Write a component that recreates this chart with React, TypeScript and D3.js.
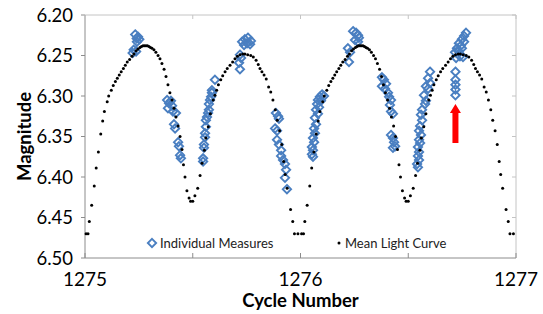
import { scaleLinear, symbol, symbolDiamond2, symbolDiamond } from "d3";

const W = 543;
const H = 314;
const FONT = "Lato, 'Open Sans', sans-serif";

// axis ticks
const yTicks = [6.2, 6.25, 6.3, 6.35, 6.4, 6.45, 6.5];
const xTickMarks = [1275, 1275.5, 1276, 1276.5, 1277];
const xLabels = [1275, 1276, 1277];

// mean light curve, phase-folded, plotted over two cycles
const cycles = [1275, 1276];
const meanPhase = [
    0.005, 0.014, 0.02, 0.031, 0.043, 0.052, 0.062, 0.073, 0.082, 0.09, 0.103,
    0.11, 0.122, 0.131, 0.141, 0.15, 0.159, 0.168, 0.178, 0.187, 0.196, 0.207,
    0.218, 0.227, 0.237, 0.246, 0.255, 0.262, 0.269, 0.276, 0.283, 0.29, 0.297,
    0.304, 0.311, 0.32, 0.329, 0.339, 0.348, 0.357, 0.367, 0.376, 0.385, 0.394,
    0.404, 0.413, 0.422, 0.432, 0.441, 0.45, 0.457, 0.464, 0.473, 0.483, 0.49,
    0.5, 0.51, 0.523, 0.534, 0.543, 0.554, 0.561, 0.572, 0.582, 0.595, 0.603,
    0.611, 0.619, 0.63, 0.639, 0.65, 0.66, 0.673, 0.685, 0.696, 0.707, 0.719,
    0.732, 0.742, 0.755, 0.769, 0.781, 0.794, 0.804, 0.812, 0.821, 0.831, 0.841,
    0.852, 0.862, 0.872, 0.883, 0.892, 0.903, 0.913, 0.922, 0.929, 0.938, 0.954,
    0.964, 0.972, 0.988,
];
const meanMag = [
    6.47, 6.47, 6.455, 6.435, 6.411, 6.389, 6.369, 6.347, 6.331, 6.319, 6.307,
    6.3, 6.293, 6.287, 6.282, 6.278, 6.274, 6.27, 6.266, 6.262, 6.258, 6.255,
    6.251, 6.248, 6.244, 6.242, 6.24, 6.239, 6.238, 6.238, 6.238, 6.238, 6.239,
    6.24, 6.241, 6.243, 6.246, 6.25, 6.254, 6.26, 6.267, 6.276, 6.286, 6.296,
    6.305, 6.315, 6.326, 6.337, 6.35, 6.366, 6.385, 6.4, 6.417, 6.426, 6.43,
    6.43, 6.423, 6.414, 6.398, 6.383, 6.367, 6.352, 6.338, 6.322, 6.305, 6.299,
    6.293, 6.286, 6.28, 6.275, 6.27, 6.266, 6.262, 6.258, 6.254, 6.251, 6.249,
    6.248, 6.248, 6.249, 6.25, 6.252, 6.256, 6.261, 6.266, 6.27, 6.274, 6.279,
    6.289, 6.295, 6.305, 6.317, 6.33, 6.343, 6.36, 6.381, 6.397, 6.414, 6.44,
    6.455, 6.47, 6.47,
];

// individual measures
const measureCycle = [
    1275.233, 1275.246, 1275.252, 1275.241, 1275.24, 1275.226, 1275.237, 1275.221,
    1275.381, 1275.39, 1275.399, 1275.385, 1275.404, 1275.408, 1275.422, 1275.413,
    1275.418, 1275.432, 1275.436, 1275.441, 1275.445,
    1275.548, 1275.548, 1275.552, 1275.552, 1275.557, 1275.557, 1275.561, 1275.561,
    1275.566, 1275.571, 1275.575, 1275.575, 1275.58, 1275.585, 1275.589, 1275.589,
    1275.603,
    1275.729, 1275.742, 1275.756, 1275.77, 1275.766, 1275.752, 1275.738, 1275.719,
    1275.724, 1275.715, 1275.719,
    1275.886, 1275.896, 1275.9, 1275.882, 1275.891, 1275.891, 1275.9, 1275.91,
    1275.91, 1275.919, 1275.928, 1275.933, 1275.928, 1275.937,
    1276.109, 1276.1, 1276.09, 1276.081, 1276.095, 1276.077, 1276.086, 1276.072,
    1276.081, 1276.067, 1276.072, 1276.063, 1276.067, 1276.058, 1276.063, 1276.053,
    1276.058, 1276.053, 1276.058,
    1276.244, 1276.258, 1276.267, 1276.271, 1276.253, 1276.267, 1276.22, 1276.23,
    1276.225,
    1276.378, 1276.387, 1276.397, 1276.378, 1276.392, 1276.406, 1276.411, 1276.42,
    1276.415, 1276.42, 1276.429, 1276.42, 1276.429, 1276.434, 1276.439, 1276.429,
    1276.601, 1276.592, 1276.601, 1276.582, 1276.592, 1276.573, 1276.582, 1276.578,
    1276.564, 1276.559, 1276.564, 1276.555, 1276.55, 1276.559, 1276.55, 1276.555,
    1276.545, 1276.55, 1276.545, 1276.55, 1276.541, 1276.545,
    1276.768, 1276.759, 1276.749, 1276.759, 1276.735, 1276.744, 1276.726, 1276.749,
    1276.731, 1276.717, 1276.74, 1276.722, 1276.754,
    1276.719, 1276.719, 1276.719, 1276.719, 1276.719,
];
const measureMag = [
    6.224, 6.227, 6.23, 6.233, 6.229, 6.243, 6.245, 6.247,
    6.305, 6.309, 6.306, 6.315, 6.312, 6.319, 6.321, 6.335,
    6.34, 6.357, 6.362, 6.373, 6.377,
    6.381, 6.377, 6.364, 6.36, 6.351, 6.346, 6.338, 6.33,
    6.326, 6.321, 6.317, 6.31, 6.305, 6.301, 6.296, 6.293,
    6.28,
    6.233, 6.23, 6.228, 6.232, 6.236, 6.235, 6.237, 6.249,
    6.253, 6.259, 6.267,
    6.321, 6.325, 6.328, 6.34, 6.343, 6.354, 6.36, 6.367,
    6.374, 6.379, 6.384, 6.391, 6.401, 6.415,
    6.3, 6.298, 6.301, 6.305, 6.306, 6.31, 6.314, 6.317,
    6.322, 6.327, 6.335, 6.34, 6.346, 6.352, 6.357, 6.363,
    6.367, 6.372, 6.375,
    6.22, 6.222, 6.225, 6.228, 6.231, 6.233, 6.241, 6.246,
    6.258,
    6.277, 6.28, 6.285, 6.288, 6.291, 6.296, 6.301, 6.305,
    6.311, 6.319, 6.322, 6.348, 6.352, 6.357, 6.362, 6.364,
    6.27, 6.278, 6.284, 6.288, 6.291, 6.299, 6.306, 6.31,
    6.317, 6.323, 6.33, 6.337, 6.343, 6.348, 6.354, 6.358,
    6.363, 6.369, 6.374, 6.379, 6.384, 6.388,
    6.222, 6.226, 6.23, 6.233, 6.235, 6.238, 6.241, 6.241,
    6.244, 6.246, 6.251, 6.253, 6.252,
    6.27, 6.28, 6.286, 6.292, 6.299,
];

// red arrow annotation
const arrowCycle = 1276.719;
const arrowTip = 6.31;
const arrowTail = 6.358;

export default function App() {
    const left = 85;
    const right = 516;
    const top = 15;
    const bottom = 258;

    const x = scaleLinear().domain([1275, 1277]).range([left, right]);
    const y = scaleLinear().domain([6.2, 6.5]).range([top, bottom]);

    const diamond = symbol(symbolDiamond2 ?? symbolDiamond, 44)() ?? "";

    const ax = x(arrowCycle);
    const aTip = y(arrowTip);
    const aTail = y(arrowTail);
    const arrowPath = `M${ax},${aTip} L${ax + 5.5},${aTip + 9} L${ax + 3},${aTip + 9} L${ax + 3},${aTail} L${ax - 3},${aTail} L${ax - 3},${aTip + 9} L${ax - 5.5},${aTip + 9} Z`;

    return (
        <svg
            width={W}
            height={H}
            style={{ position: "absolute", left: 0, top: 0, background: "#fff" }}
            fontFamily={FONT}
        >
            {/* frame */}
            <line x1={left} x2={right} y1={top} y2={top} stroke="#c4c4c4" />
            <line x1={right} x2={right} y1={top} y2={bottom} stroke="#c4c4c4" />
            <line x1={left} x2={left} y1={top} y2={bottom} stroke="#8c8c8c" />
            <line x1={left} x2={right} y1={bottom} y2={bottom} stroke="#8c8c8c" />

            {/* y ticks + labels */}
            {yTicks.map((t) => (
                <g key={t}>
                    <line x1={left - 4} x2={left} y1={y(t)} y2={y(t)} stroke="#8c8c8c" />
                    <line x1={right - 4} x2={right} y1={y(t)} y2={y(t)} stroke="#c4c4c4" />
                    <text
                        x={left - 12}
                        y={y(t) + 6.5}
                        textAnchor="end"
                        fontSize={18.5}
                        fill="#000"
                    >
                        {t.toFixed(2)}
                    </text>
                </g>
            ))}

            {/* x ticks */}
            {xTickMarks.map((t) => (
                <g key={t}>
                    <line x1={x(t)} x2={x(t)} y1={bottom - 5} y2={bottom} stroke="#8c8c8c" />
                    <line x1={x(t)} x2={x(t)} y1={top} y2={top + 4} stroke="#c4c4c4" />
                </g>
            ))}
            {xLabels.map((t) => (
                <text
                    key={t}
                    x={x(t)}
                    y={286}
                    textAnchor="middle"
                    fontSize={19}
                    fill="#000"
                >
                    {t}
                </text>
            ))}

            {/* axis titles */}
            <text x={(left + right) / 2} y={307} textAnchor="middle" fontSize={18.5} fontWeight="bold">
                Cycle Number
            </text>
            <text
                transform={`translate(30.5,${(top + bottom) / 2}) rotate(-90)`}
                textAnchor="middle"
                fontSize={18.5}
                fontWeight="bold"
            >
                Magnitude
            </text>

            {/* individual measures */}
            {measureCycle.map((c, i) => (
                <path
                    key={"m" + i}
                    d={diamond}
                    transform={`translate(${x(c)},${y(measureMag[i])})`}
                    fill="none"
                    stroke="#4a7fc1"
                    strokeWidth={1.9}
                />
            ))}

            {/* mean light curve */}
            {cycles.map((cyc) =>
                meanPhase.map((p, i) => (
                    <circle
                        key={cyc + "-" + i}
                        cx={x(cyc + p)}
                        cy={y(meanMag[i])}
                        r={1.5}
                        fill="#000"
                    />
                )),
            )}

            {/* arrow */}
            <path d={arrowPath} fill="#ff0000" />

            {/* legend */}
            <path d={diamond} transform="translate(152,243)" fill="none" stroke="#4a7fc1" strokeWidth={1.9} />
            <text x={160} y={247.5} fontSize={13} fill="#222">
                Individual Measures
            </text>
            <circle cx={339} cy={243} r={1.5} fill="#000" />
            <text x={345} y={247.5} fontSize={13} fill="#222">
                Mean Light Curve
            </text>
        </svg>
    );
}
